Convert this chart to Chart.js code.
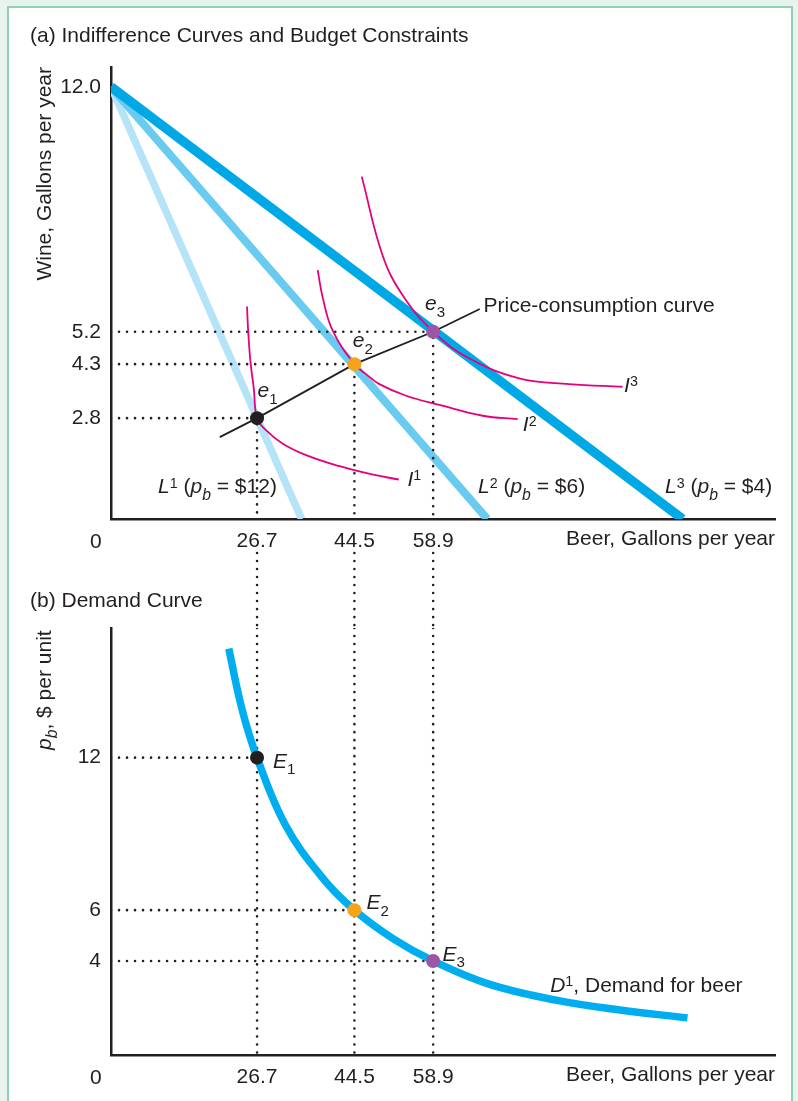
<!DOCTYPE html>
<html>
<head>
<meta charset="utf-8">
<title>Price-consumption curve and demand for beer</title>
<script src="https://cdn.jsdelivr.net/npm/chart.js@4.4.1/dist/chart.umd.min.js"></script>
<style>
  html, body { margin: 0; padding: 0; }
  body { width: 798px; height: 1101px; overflow: hidden; position: relative; background: #e7f3ed; }
  #frame { position: absolute; left: 7px; top: 6px; width: 782px; height: 1110px; background: #fff; border: 2px solid #92d0b2; }
  canvas { position: absolute; left: 0; top: 0; }
</style>
</head>
<body>
<div id="frame"></div>
<canvas id="choice" width="798" height="1101"></canvas>
<canvas id="demand" width="798" height="1101"></canvas>
<script>
const INK = '#231f20';
const MAGENTA = '#e5007e';
const FONT = '"Liberation Sans", Arial, Helvetica, sans-serif';
const SIZE = 21;

// tick labels
const beerTicks = [26.7, 44.5, 58.9];
const wineTicks = [2.8, 4.3, 5.2, 12.0];
const priceTicks = [4, 6, 12];

// optimal bundles e1..e3 and the beer price behind each
const optBeer = [26.7, 44.5, 58.9];
const optWine = [2.8, 4.3, 5.2];
const optPrice = [12, 6, 4];
const optColors = ['#231f20', '#f7a21c', '#9c56a5'];

// budget lines L1..L3: all start at 12 gallons of wine
const wineIntercept = 12.0;
const beerIntercepts = [34.85, 68.8, 104.5];
const budgetColors = ['#b5e3f7', '#6acbf0', '#00a9e6'];
const budgetWidths = [7.5, 8, 9.5];

// indifference curves
const i1Beer = [24.87, 25.05, 25.49, 26.10, 26.7, 28.24, 31.27, 35.55, 41.64, 47.72, 52.61];
const i1Wine = [5.90, 5.30, 4.375, 3.633, 2.8, 2.483, 2.106, 1.781, 1.472, 1.236, 1.097];
const i2Beer = [37.79, 38.70, 40.53, 44.5, 46.64, 49.07, 53.95, 60.04, 67.95, 74.35];
const i2Wine = [6.911, 6.153, 5.228, 4.3, 4.022, 3.744, 3.422, 3.167, 2.867, 2.772];
const i3Beer = [45.85, 49.63, 53.29, 58.9, 65.48, 74.63, 83.77, 93.51];
const i3Wine = [9.506, 7.331, 6.219, 5.2, 4.461, 3.906, 3.747, 3.672];

// price-consumption curve
const pccBeer = [19.88, 26.7, 44.5, 58.9, 67.42];
const pccWine = [2.272, 2.8, 4.3, 5.2, 5.83];

// demand curve D1
const dBeer = [21.53, 23.96, 26.7, 31.91, 38.63, 44.5, 51.70, 58.9, 69.10, 81.35, 93.05, 105.4];
const dPrice = [16.29, 13.90, 12, 9.34, 7.28, 6, 4.86, 4, 3.09, 2.46, 2.07, 1.76];

const BEER_MAX = 121.4;
const WINE_MAX = 12.55;
const PRICE_MIN = 0.3;
const PRICE_MAX = 17.1;

const pts = (xs, ys) => xs.map((x, i) => ({x, y: ys[i]}));

function curve(data, color, width, smooth) {
  return {
    data, showLine: true, borderColor: color, borderWidth: width,
    pointRadius: 0, pointHoverRadius: 0, tension: smooth ? 0.4 : 0, clip: 0
  };
}

function dotted(data) {
  return {
    data, showLine: true, borderColor: INK, borderWidth: 2.6,
    borderDash: [0.01, 8], borderCapStyle: 'round',
    pointRadius: 0, pointHoverRadius: 0, clip: 0
  };
}

function dots(xs, ys) {
  return {
    data: pts(xs, ys), pointRadius: 7, pointHoverRadius: 7,
    pointBackgroundColor: optColors, pointBorderWidth: 0, clip: false
  };
}

// text with italics, sub- and superscripts
const STYLES = {
  '':   {k: 1,    dy: 0,     it: false},
  i:    {k: 1,    dy: 0,     it: true},
  sup:  {k: 0.68, dy: -0.26, it: false},
  sub:  {k: 0.72, dy: 0.3,   it: false},
  isub: {k: 0.75, dy: 0.33,  it: true}
};

function drawRich(ctx, x, y, parts) {
  const base = y + SIZE * 0.36;
  let cx = x;
  for (const [t, s = ''] of parts) {
    const st = STYLES[s];
    ctx.font = (st.it ? 'italic ' : '') + (SIZE * st.k) + 'px ' + FONT;
    ctx.fillText(t, cx, base + st.dy * SIZE);
    cx += ctx.measureText(t).width;
  }
}

// notes: "at" is in data units, "px" is fixed page position
function notes(items) {
  return {
    id: 'notes',
    afterDraw(chart) {
      const {ctx, scales: {x, y}} = chart;
      ctx.save();
      ctx.fillStyle = INK;
      ctx.textAlign = 'left';
      ctx.textBaseline = 'alphabetic';
      for (const n of items) {
        const p = n.at ? [x.getPixelForValue(n.at[0]), y.getPixelForValue(n.at[1])] : n.px;
        if (n.rot) {
          ctx.save();
          ctx.translate(p[0], p[1]);
          ctx.rotate(-Math.PI / 2);
          drawRich(ctx, 0, 0, n.parts);
          ctx.restore();
        } else {
          drawRich(ctx, p[0], p[1], n.parts);
        }
      }
      ctx.restore();
    }
  };
}

// dotted verticals continue from panel (a) down into panel (b)
const GAP_TOP = 553;
const gapPlugin = {
  id: 'gap',
  beforeDatasetsDraw(chart) {
    const {ctx, chartArea, scales: {x}} = chart;
    ctx.save();
    ctx.strokeStyle = INK;
    ctx.lineWidth = 2.6;
    ctx.lineCap = 'round';
    ctx.setLineDash([0.01, 8]);
    for (const b of optBeer) {
      const px = x.getPixelForValue(b);
      ctx.beginPath();
      ctx.moveTo(px, GAP_TOP);
      ctx.lineTo(px, chartArea.top);
      ctx.stroke();
    }
    ctx.restore();
  }
};

Chart.defaults.font.family = FONT;
Chart.defaults.color = INK;

function beerAxis() {
  return {
    type: 'linear', min: 0, max: BEER_MAX,
    grid: {display: false, drawTicks: false},
    border: {color: INK, width: 2.5},
    afterBuildTicks: s => { s.ticks = beerTicks.map(v => ({value: v})); },
    afterFit: s => { s.height = 40; },
    ticks: {color: INK, font: {size: SIZE}, padding: 9.6, autoSkip: false, maxRotation: 0,
            callback: v => v.toFixed(1)},
    title: {display: true, text: 'Beer, Gallons per year', align: 'end', color: INK,
            font: {size: SIZE}, padding: {top: 0, bottom: 7.6}}
  };
}

const base = {
  responsive: false,
  animation: false,
  events: []
};

const choiceNotes = [
  {px: [30, 34], parts: [['(a) Indifference Curves and Budget Constraints']]},
  {px: [90, 540], parts: [['0']]},
  {at: [8.6, 0.93], parts: [['L', 'i'], ['1', 'sup'], [' ('], ['p', 'i'], ['b', 'isub'], [' = $12)']]},
  {at: [67.1, 0.93], parts: [['L', 'i'], ['2', 'sup'], [' ('], ['p', 'i'], ['b', 'isub'], [' = $6)']]},
  {at: [101.3, 0.93], parts: [['L', 'i'], ['3', 'sup'], [' ('], ['p', 'i'], ['b', 'isub'], [' = $4)']]},
  {at: [26.8, 3.59], parts: [['e', 'i'], ['1', 'sub']]},
  {at: [44.2, 4.98], parts: [['e', 'i'], ['2', 'sub']]},
  {at: [57.4, 6.0], parts: [['e', 'i'], ['3', 'sub']]},
  {at: [68.1, 5.97], parts: [['Price-consumption curve']]},
  {at: [54.2, 1.14], parts: [['I', 'i'], ['1', 'sup']]},
  {at: [75.3, 2.64], parts: [['I', 'i'], ['2', 'sup']]},
  {at: [93.8, 3.75], parts: [['I', 'i'], ['3', 'sup']]}
];

new Chart(document.getElementById('choice'), {
  type: 'scatter',
  data: {
    datasets: [
      dots(optBeer, optWine),
      curve(pts(pccBeer, pccWine), INK, 1.8, false),
      curve(pts(i1Beer, i1Wine), MAGENTA, 1.8, true),
      curve(pts(i2Beer, i2Wine), MAGENTA, 1.8, true),
      curve(pts(i3Beer, i3Wine), MAGENTA, 1.8, true),
      ...optBeer.map((b, i) => dotted([{x: 0, y: optWine[i]}, {x: b, y: optWine[i]}, {x: b, y: 0}])),
      ...[2, 1, 0].map(i => curve([{x: 0, y: wineIntercept}, {x: beerIntercepts[i], y: 0}],
                                  budgetColors[i], budgetWidths[i], false))
    ]
  },
  options: {
    ...base,
    layout: {padding: {left: 30, right: 23, top: 67, bottom: 542}},
    plugins: {legend: {display: false}, tooltip: {enabled: false}},
    scales: {
      x: beerAxis(),
      y: {
        type: 'linear', min: 0, max: WINE_MAX,
        grid: {display: false, drawTicks: false},
        border: {color: INK, width: 2.5},
        afterBuildTicks: s => { s.ticks = wineTicks.map(v => ({value: v})); },
        afterFit: s => { s.width = 81; },
        ticks: {color: INK, font: {size: SIZE}, padding: 10, callback: v => v.toFixed(1)},
        title: {display: true, text: 'Wine, Gallons per year', align: 'end', color: INK,
                font: {size: SIZE}, padding: {top: 2.4, bottom: 0}}
      }
    }
  },
  plugins: [notes(choiceNotes)]
});

const demandNotes = [
  {px: [30, 599], parts: [['(b) Demand Curve']]},
  {px: [90, 1076], parts: [['0']]},
  {px: [43, 750], rot: true, parts: [['p', 'i'], ['b', 'isub'], [', $ per unit']]},
  {at: [29.6, 11.9], parts: [['E', 'i'], ['1', 'sub']]},
  {at: [46.7, 6.33], parts: [['E', 'i'], ['2', 'sub']]},
  {at: [60.6, 4.3], parts: [['E', 'i'], ['3', 'sub']]},
  {at: [80.3, 3.09], parts: [['D', 'i'], ['1', 'sup'], [', Demand for beer']]}
];

new Chart(document.getElementById('demand'), {
  type: 'scatter',
  data: {
    datasets: [
      dots(optBeer, optPrice),
      curve(pts(dBeer, dPrice), '#00aeef', 7.5, true),
      ...optBeer.map((b, i) => dotted([{x: 0, y: optPrice[i]}, {x: b, y: optPrice[i]}])),
      ...optBeer.map(b => dotted([{x: b, y: PRICE_MAX}, {x: b, y: PRICE_MIN}]))
    ]
  },
  options: {
    ...base,
    layout: {padding: {left: 30, right: 23, top: 628, bottom: 6}},
    plugins: {legend: {display: false}, tooltip: {enabled: false}},
    scales: {
      x: beerAxis(),
      y: {
        type: 'linear', min: PRICE_MIN, max: PRICE_MAX,
        grid: {display: false, drawTicks: false},
        border: {color: INK, width: 2.5},
        afterBuildTicks: s => { s.ticks = priceTicks.map(v => ({value: v})); },
        afterFit: s => { s.width = 81; },
        ticks: {color: INK, font: {size: SIZE}, padding: 10, callback: v => String(v)}
      }
    }
  },
  plugins: [notes(demandNotes), gapPlugin]
});
</script>
</body>
</html>
